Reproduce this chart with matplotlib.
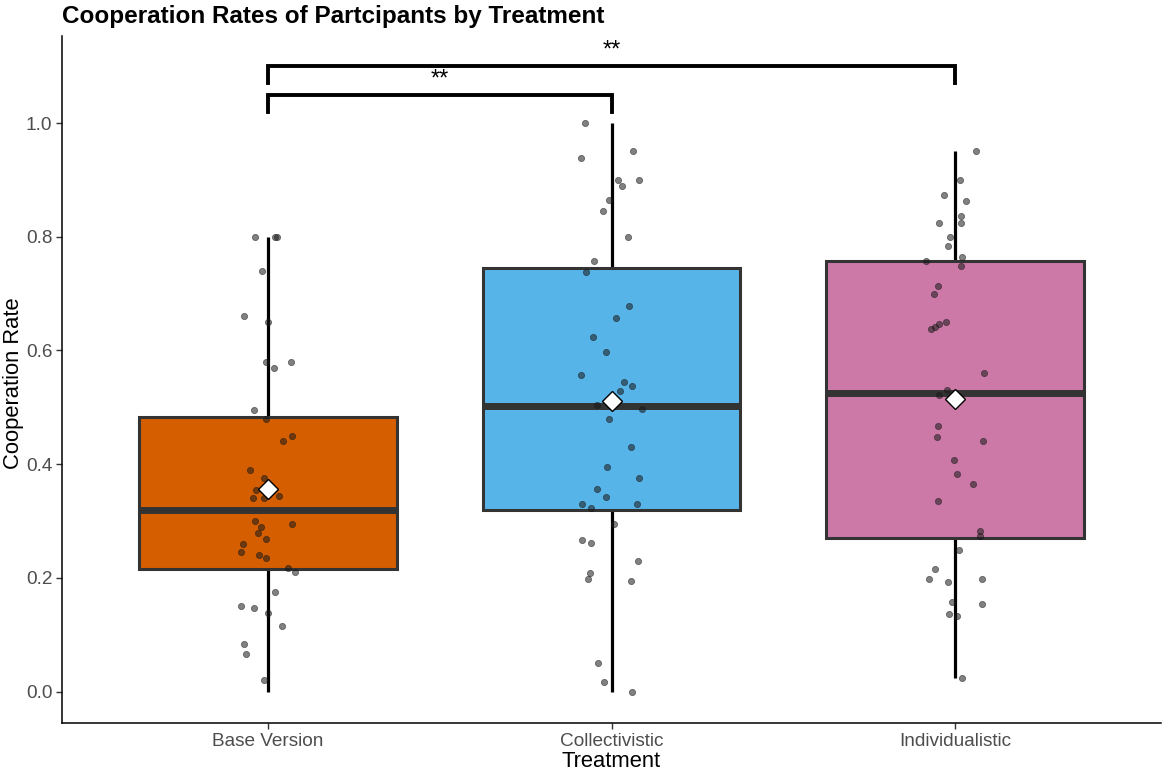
import matplotlib
matplotlib.use("Agg")
import matplotlib.pyplot as plt
import numpy as np

plt.rcParams['font.family'] = ['Liberation Sans', 'DejaVu Sans']

# ---------------- data ----------------
categories = ["Base Version", "Collectivistic", "Individualistic"]
box_colors = ["#D55E00", "#56B4E9", "#CC79A7"]

# box statistics
q1 = [0.216, 0.320, 0.270]
medians = [0.320, 0.503, 0.526]
q3 = [0.483, 0.745, 0.758]
whisk_lo = [0.0, 0.0, 0.025]
whisk_hi = [0.80, 1.00, 0.95]
means = [0.356, 0.512, 0.514]

# individual participants (value, horizontal jitter in category units)
base_vals = [0.800, 0.800, 0.800, 0.739, 0.660, 0.650, 0.579, 0.570, 0.579, 0.495,
             0.479, 0.450, 0.440, 0.390, 0.375, 0.355, 0.340, 0.340, 0.345, 0.300,
             0.290, 0.295, 0.279, 0.269, 0.260, 0.245, 0.240, 0.235, 0.218, 0.210,
             0.175, 0.150, 0.148, 0.139, 0.115, 0.084, 0.067, 0.020]
base_jit = [-0.038, 0.020, 0.025, -0.017, -0.069, 0.0, -0.006, 0.017, 0.066, -0.041,
            -0.006, 0.070, 0.043, -0.052, -0.012, -0.035, -0.044, -0.012, 0.032, -0.038,
            -0.021, 0.070, -0.028, -0.006, -0.072, -0.078, -0.026, -0.006, 0.058, 0.079,
            0.020, -0.079, -0.042, 0.0, 0.041, -0.070, -0.064, -0.012]

coll_vals = [1.000, 0.939, 0.950, 0.899, 0.889, 0.899, 0.865, 0.846, 0.799, 0.758,
             0.738, 0.678, 0.658, 0.624, 0.598, 0.557, 0.545, 0.537, 0.529, 0.504,
             0.497, 0.480, 0.430, 0.396, 0.376, 0.356, 0.342, 0.330, 0.323, 0.330,
             0.295, 0.266, 0.262, 0.229, 0.209, 0.198, 0.195, 0.050, 0.017, 0.0]
coll_jit = [-0.076, -0.090, 0.063, 0.019, 0.032, 0.081, -0.007, -0.026, 0.049, -0.051,
            -0.075, 0.052, 0.013, -0.055, -0.017, -0.090, 0.037, 0.059, 0.025, -0.042,
            0.090, -0.006, 0.056, -0.014, 0.080, -0.042, -0.015, -0.087, -0.059, 0.075,
            0.008, -0.085, -0.061, 0.077, -0.063, -0.069, 0.057, -0.038, -0.022, 0.061]

indiv_vals = [0.950, 0.900, 0.874, 0.863, 0.837, 0.825, 0.825, 0.799, 0.783, 0.764,
              0.758, 0.749, 0.713, 0.700, 0.650, 0.646, 0.642, 0.638, 0.560, 0.531,
              0.522, 0.468, 0.448, 0.441, 0.408, 0.383, 0.366, 0.336, 0.282, 0.274,
              0.250, 0.215, 0.199, 0.193, 0.199, 0.157, 0.155, 0.137, 0.133, 0.024]
indiv_jit = [0.060, 0.014, -0.031, 0.031, 0.019, -0.045, 0.019, -0.013, -0.021, 0.021,
             -0.083, 0.017, -0.050, -0.060, -0.026, -0.047, -0.058, -0.070, 0.084, -0.022,
             -0.047, -0.050, -0.053, 0.083, -0.002, 0.005, 0.052, -0.050, 0.074, 0.073,
             0.013, -0.058, -0.075, -0.021, 0.080, -0.010, 0.079, -0.018, 0.005, 0.022]

# significance brackets: (from, to, label)
sig_pairs = [(0, 1, "**"), (0, 2, "**")]
sig_heights = [1.049, 1.100]
sig_drop = 0.030

yticks = [0.0, 0.2, 0.4, 0.6, 0.8, 1.0]

# ---------------- figure ----------------
fig = plt.figure(figsize=(11.7, 7.75), dpi=100)
ax = fig.add_axes([62/1170, 1 - 723/775, (1161 - 62)/1170, (723 - 36)/775])

pos = np.arange(len(categories))
width = 0.75
for i in range(len(categories)):
    # whiskers
    ax.plot([pos[i], pos[i]], [whisk_lo[i], q1[i]], color="black", lw=2.3, zorder=1,
            solid_capstyle="butt")
    ax.plot([pos[i], pos[i]], [q3[i], whisk_hi[i]], color="black", lw=2.3, zorder=1,
            solid_capstyle="butt")
    # box
    rect = plt.Rectangle((pos[i] - width/2, q1[i]), width, q3[i] - q1[i],
                         facecolor=box_colors[i], edgecolor="#333333", lw=2.2, zorder=2)
    ax.add_patch(rect)
    ax.plot([pos[i] - width/2, pos[i] + width/2], [medians[i], medians[i]],
            color="#333333", lw=5, zorder=3, solid_capstyle="butt")

all_vals = [base_vals, coll_vals, indiv_vals]
all_jit = [base_jit, coll_jit, indiv_jit]
for i in range(len(categories)):
    xs = pos[i] + np.array(all_jit[i])
    ax.scatter(xs, all_vals[i], s=20, color="#1a1a1a", alpha=0.55,
               edgecolors="#1a1a1a", linewidths=0.6, zorder=4)

ax.plot(pos, means, linestyle="none", marker="D", markersize=10,
        markerfacecolor="white", markeredgecolor="black", markeredgewidth=1.0, zorder=5)

# brackets
for (a, b, lab), h in zip(sig_pairs, sig_heights):
    ax.plot([pos[a], pos[a], pos[b], pos[b]], [h - sig_drop, h, h, h - sig_drop],
            color="black", lw=2.8, zorder=6, solid_joinstyle="miter")
    ax.text((pos[a] + pos[b]) / 2, h + 0.008, lab, ha="center", va="bottom",
            fontsize=17, color="black")

ax.set_xlim(-0.6, 2.6)
ax.set_ylim(-0.055, 1.153)
ax.set_xticks(pos)
ax.set_xticklabels(categories, fontsize=13.7, color="#4d4d4d")
ax.set_yticks(yticks)
ax.set_yticklabels([f"{t:.1f}" for t in yticks], fontsize=13.7, color="#4d4d4d")
ax.tick_params(axis="both", length=4, width=1, color="#333333", pad=3)
for side in ["top", "right"]:
    ax.spines[side].set_visible(False)
for side in ["left", "bottom"]:
    ax.spines[side].set_linewidth(1.1)
    ax.spines[side].set_color("black")

ax.set_xlabel("Treatment", fontsize=15.8, labelpad=1)
ax.set_ylabel("Cooperation Rate", fontsize=15.8)
ax.yaxis.set_label_coords(-0.0437, 0.494)
ax.yaxis.label.set_verticalalignment("center")

fig.text(62/1170, 1 - 16/775, "Cooperation Rates of Partcipants by Treatment",
         fontsize=17.5, fontweight="bold", ha="left", va="center")

fig.savefig("out.png", dpi=100)
